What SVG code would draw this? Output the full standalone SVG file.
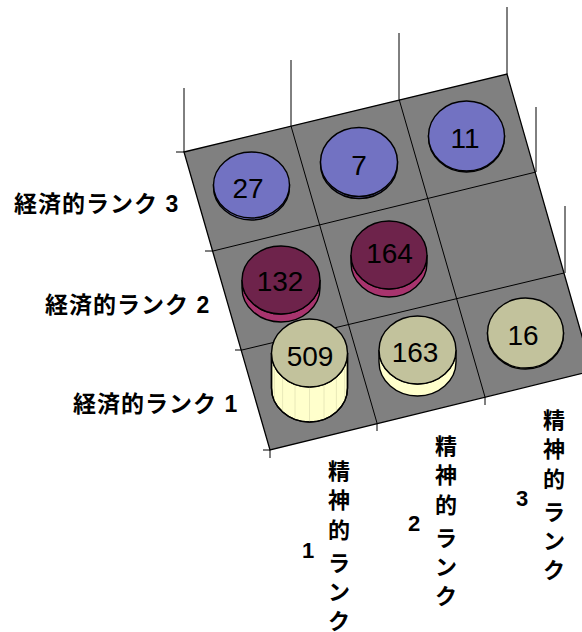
<svg xmlns="http://www.w3.org/2000/svg" width="582" height="632" viewBox="0 0 582 632">
<style>
.wall{stroke:#000;stroke-width:1;fill:none}
.floor{fill:#808080;stroke:#000;stroke-width:1.3}
.grid{stroke:#000;stroke-width:1;fill:none}
.num{font-family:"Liberation Sans",Arial,sans-serif;font-size:28px;fill:#000;text-anchor:middle}
.lab{font-family:"Liberation Sans","Noto Sans CJK JP",sans-serif;font-size:23px;font-weight:bold;fill:#000}
.vl{font-family:"Noto Sans CJK JP","Liberation Sans",sans-serif;font-size:22px;font-weight:bold;fill:#000;text-anchor:middle}
.dg{font-family:"Liberation Sans",Arial,sans-serif;font-size:22px;font-weight:bold;fill:#000;text-anchor:middle}
.bTop{fill:#7272C2;stroke:#000;stroke-width:1.4}
.mTop{fill:#6E234B;stroke:#000;stroke-width:1.4}
.mSide{fill:#A8346E;stroke:#000;stroke-width:1.4}
.cTop{fill:#C2C29C;stroke:#000;stroke-width:1.4}
.cSide{fill:#FFFFCC;stroke:#000;stroke-width:1.4}
.stripe{stroke:#E2E2B4;stroke-width:0.8}
</style>

<g id="walls">
<line class="wall" x1="184" y1="88" x2="184" y2="152"/>
<line class="wall" x1="291" y1="60" x2="291" y2="126"/>
<line class="wall" x1="399" y1="33" x2="399" y2="99"/>
<line class="wall" x1="507" y1="7" x2="507" y2="74"/>
<line class="wall" x1="536" y1="107" x2="536" y2="172"/>
<line class="wall" x1="565" y1="206" x2="565" y2="273"/>
</g>

<g id="floor">
<polygon class="floor" points="184,152 507,74 592,371 270,450"/>
<line class="grid" x1="291" y1="126" x2="377" y2="423"/>
<line class="grid" x1="399" y1="99" x2="485" y2="397"/>
<line class="grid" x1="213" y1="251" x2="536" y2="172"/>
<line class="grid" x1="242" y1="350" x2="564" y2="273"/>
<line class="grid" x1="176" y1="152" x2="184" y2="152"/>
<line class="grid" x1="205" y1="251" x2="213" y2="251"/>
<line class="grid" x1="235" y1="350" x2="242" y2="350"/>
<line class="grid" x1="263" y1="450" x2="270" y2="450"/>
<line class="grid" x1="270" y1="450" x2="270" y2="458"/>
<line class="grid" x1="377" y1="423" x2="377" y2="431"/>
<line class="grid" x1="485" y1="397" x2="485" y2="405"/>
</g>

<g id="bar-27">
<path class="bTop" d="M213.5,185 v2 a38,33 0 0 0 76,0 v-2 z"/>
<ellipse class="bTop" cx="251.5" cy="185" rx="38" ry="33"/>
<text class="num" x="248" y="198">27</text>
</g>
<g id="bar-7">
<path class="bTop" d="M320.5,162 v2 a38.5,34.5 0 0 0 77,0 v-2 z"/>
<ellipse class="bTop" cx="359" cy="162" rx="38.5" ry="34.5"/>
<text class="num" x="359" y="175">7</text>
</g>
<g id="bar-11">
<path class="bTop" d="M428.5,136 v1 a38,35 0 0 0 76,0 v-1 z"/>
<ellipse class="bTop" cx="466.5" cy="136" rx="38" ry="35"/>
<text class="num" x="465" y="148">11</text>
</g>

<g id="bar-132">
<path class="mSide" d="M242,280 v8 a39,34 0 0 0 78,0 v-8 a39,34 0 0 1 -78,0 z"/>
<ellipse class="mTop" cx="281" cy="280" rx="39" ry="34"/>
<text class="num" x="280" y="291">132</text>
</g>
<g id="bar-164">
<path class="mSide" d="M351,255 v8 a38,34 0 0 0 76,0 v-8 a38,34 0 0 1 -76,0 z"/>
<ellipse class="mTop" cx="389" cy="255" rx="38" ry="34"/>
<text class="num" x="389.5" y="263">164</text>
</g>

<g id="bar-509">
<path class="cSide" d="M271.5,353 v35 a38,34 0 0 0 76,0 v-35 a38,34 0 0 1 -76,0 z"/>
<line class="stripe" x1="344.6" y1="366" x2="344.6" y2="401"/>
<line class="stripe" x1="336.4" y1="377" x2="336.4" y2="412"/>
<line class="stripe" x1="324" y1="384.4" x2="324" y2="419.4"/>
<line class="stripe" x1="309.5" y1="387" x2="309.5" y2="422"/>
<line class="stripe" x1="295" y1="384.4" x2="295" y2="419.4"/>
<line class="stripe" x1="282.6" y1="377" x2="282.6" y2="412"/>
<line class="stripe" x1="274.4" y1="366" x2="274.4" y2="401"/>
<path d="M271.5,353 v35 a38,34 0 0 0 76,0 v-35" fill="none" stroke="#000" stroke-width="1.4"/>
<ellipse class="cTop" cx="309.5" cy="353" rx="38" ry="34"/>
<text class="num" x="310" y="366">509</text>
</g>
<g id="bar-163">
<path class="cSide" d="M379,350 v12 a38.5,34 0 0 0 77,0 v-12 a38.5,34 0 0 1 -77,0 z"/>
<ellipse class="cTop" cx="417.5" cy="350" rx="38.5" ry="34"/>
<text class="num" x="415" y="362">163</text>
</g>
<g id="bar-16">
<path class="cSide" d="M487.5,333 v1 a38,35 0 0 0 76,0 v-1 z"/>
<ellipse class="cTop" cx="525.5" cy="333" rx="38" ry="35"/>
<text class="num" x="523" y="345">16</text>
</g>

<g id="row-labels">
<text class="lab" x="14" y="212" letter-spacing="1">経済的ランク 3</text>
<text class="lab" x="45" y="313" letter-spacing="1">経済的ランク 2</text>
<text class="lab" x="73" y="412" letter-spacing="1">経済的ランク 1</text>
</g>

<g id="col-label-1">
<text class="vl"><tspan x="339" y="479">精</tspan><tspan x="339" y="508">神</tspan><tspan x="339" y="538">的</tspan><tspan x="339" y="571">ラ</tspan><tspan x="339" y="600">ン</tspan><tspan x="339" y="629">ク</tspan></text>
<text class="dg" x="308" y="558">1</text>
</g>
<g id="col-label-2">
<text class="vl"><tspan x="446" y="454">精</tspan><tspan x="446" y="483">神</tspan><tspan x="446" y="513">的</tspan><tspan x="446" y="546">ラ</tspan><tspan x="446" y="575">ン</tspan><tspan x="446" y="604">ク</tspan></text>
<text class="dg" x="414" y="531">2</text>
</g>
<g id="col-label-3">
<text class="vl"><tspan x="554" y="428">精</tspan><tspan x="554" y="457">神</tspan><tspan x="554" y="487">的</tspan><tspan x="554" y="520">ラ</tspan><tspan x="554" y="549">ン</tspan><tspan x="554" y="578">ク</tspan></text>
<text class="dg" x="522" y="506">3</text>
</g>
</svg>
